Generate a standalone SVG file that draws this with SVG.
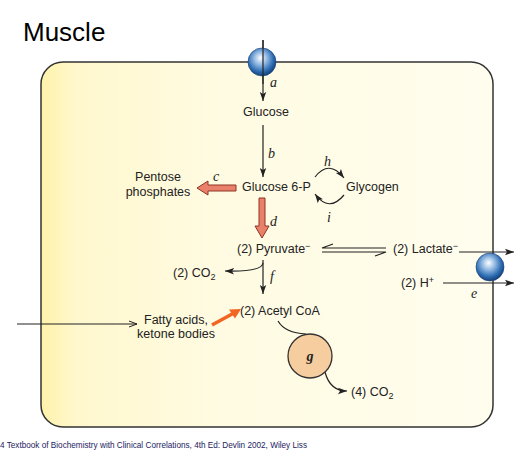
<svg xmlns="http://www.w3.org/2000/svg" width="521" height="460" viewBox="0 0 521 460">
<style>
  .lbl { font-family: "Liberation Sans", Arial, sans-serif; font-size: 12.5px; fill: #222; }
  .it { font-family: "Liberation Serif", "Times New Roman", serif; font-style: italic; font-size: 14px; fill: #222; }
  .ln { fill: none; stroke: #222; stroke-width: 1.2; }
  .pink { fill: #E9806A; stroke: #8E3424; stroke-width: 1; }
</style>
<defs>
  <linearGradient id="cellFill" x1="0" y1="0" x2="1" y2="0">
    <stop offset="0" stop-color="#FFF2AA"/>
    <stop offset="0.08" stop-color="#FFF8CE"/>
    <stop offset="0.4" stop-color="#FFFBE2"/>
    <stop offset="1" stop-color="#FFFDEE"/>
  </linearGradient>
  <radialGradient id="sphere" cx="0.45" cy="0.4" r="0.6" fx="0.45" fy="0.35">
    <stop offset="0" stop-color="#FFFFFF"/>
    <stop offset="0.35" stop-color="#9CC0E6"/>
    <stop offset="0.75" stop-color="#2E6EB4"/>
    <stop offset="1" stop-color="#14407A"/>
  </radialGradient>
  <marker id="arr" markerUnits="userSpaceOnUse" markerWidth="10" markerHeight="8" refX="9" refY="4" orient="auto">
    <path d="M0,0.8 L9,4 L0,7.2 L2,4 z" fill="#222"/>
  </marker>
  <marker id="open" markerUnits="userSpaceOnUse" markerWidth="10" markerHeight="8" refX="9" refY="4" orient="auto">
    <path d="M1,1 L9,4 L1,7" fill="none" stroke="#222" stroke-width="1"/>
  </marker>
</defs>

<text id="title" x="23" y="41" style="font-family:'Liberation Sans',Arial,sans-serif;font-size:26px;fill:#000">Muscle</text>

<g id="cell">
  <rect x="41" y="62" width="452" height="365" rx="22" ry="22" fill="url(#cellFill)" stroke="#333" stroke-width="1.5"/>
</g>

<g id="connectors">
  <!-- a -->
  <line class="ln" x1="263" y1="40" x2="263" y2="101" marker-end="url(#arr)"/>
  <!-- b -->
  <line class="ln" x1="263" y1="125" x2="263" y2="177" marker-end="url(#arr)"/>
  <!-- c -->
  <polygon class="pink" points="197,188 208,181 208,185 236,185 236,191 208,191 208,195"/>
  <!-- d -->
  <polygon class="pink" points="262,238 255,226 259,226 259,198 265,198 265,226 269,226"/>
  <!-- h / i -->
  <path class="ln" d="M315,177 Q329,159 344,178" marker-end="url(#arr)"/>
  <path class="ln" d="M344,195 Q329,213 315,194" marker-end="url(#arr)"/>
  <!-- pyruvate <-> lactate -->
  <path class="ln" d="M386,248 L322,248 L333,244"/>
  <path class="ln" d="M322,252 L386,252 L375,256"/>
  <!-- e: lactate out, H+ out -->
  <line class="ln" x1="459" y1="252" x2="514" y2="252" marker-end="url(#arr)"/>
  <line class="ln" x1="443" y1="283" x2="514" y2="283" marker-end="url(#arr)"/>
  <!-- f -->
  <line class="ln" x1="263" y1="260" x2="263" y2="294" marker-end="url(#arr)"/>
  <path class="ln" d="M263,263 Q262,272 225,271" marker-end="url(#arr)"/>
  <!-- fatty acids -->
  <line class="ln" x1="17" y1="324" x2="137" y2="324" stroke-width="1" marker-end="url(#open)"/>
  <line x1="212" y1="325" x2="233" y2="313.5" stroke="#F26522" stroke-width="3.5"/>
  <polygon points="241,309 229,309.5 235,318.5" fill="#F26522"/>
  <!-- g -->
  <path class="ln" d="M278,321 Q285,333 306,334"/>
  <path class="ln" d="M325,372 Q330,391 347,391" marker-end="url(#arr)"/>
</g>

<g id="transporter-top">
  <circle cx="262" cy="62" r="14" fill="url(#sphere)" stroke="#1A3E70" stroke-width="0.6"/>
  <line class="ln" x1="263" y1="40" x2="263" y2="84"/>
</g>
<g id="transporter-right">
  <circle cx="490" cy="267" r="14" fill="url(#sphere)" stroke="#1A3E70" stroke-width="0.6"/>
</g>

<g id="glucose"><text class="lbl" x="266" y="116" text-anchor="middle">Glucose</text></g>
<g id="glucose6p"><text class="lbl" x="242" y="191">Glucose 6-P</text></g>
<g id="pentose">
  <text class="lbl" x="158" y="181" text-anchor="middle">Pentose</text>
  <text class="lbl" x="158" y="196" text-anchor="middle">phosphates</text>
</g>
<g id="glycogen"><text class="lbl" x="346" y="191">Glycogen</text></g>
<g id="pyruvate"><text class="lbl" x="237" y="253">(2) Pyruvate<tspan font-size="9" dy="-4">−</tspan></text></g>
<g id="lactate"><text class="lbl" x="393" y="253">(2) Lactate<tspan font-size="9" dy="-4">−</tspan></text></g>
<g id="hplus"><text class="lbl" x="401" y="287">(2) H<tspan font-size="9" dy="-4">+</tspan></text></g>
<g id="co2a"><text class="lbl" x="173" y="277">(2) CO<tspan font-size="9" dy="3">2</tspan></text></g>
<g id="acetylcoa"><text class="lbl" x="240" y="315">(2) Acetyl CoA</text></g>
<g id="fattyacids">
  <text class="lbl" x="176" y="324" text-anchor="middle">Fatty acids,</text>
  <text class="lbl" x="176" y="338" text-anchor="middle">ketone bodies</text>
</g>
<g id="tca">
  <circle cx="310" cy="356" r="22" fill="#F6CD9E" stroke="#333" stroke-width="1.3"/>
  <text x="310" y="361" text-anchor="middle" style="font-family:'Liberation Serif',serif;font-style:italic;font-weight:bold;font-size:14px;fill:#222">g</text>
</g>
<g id="co2b"><text class="lbl" x="351" y="396">(4) CO<tspan font-size="9" dy="3">2</tspan></text></g>

<g id="enzyme-labels">
  <text class="it" x="270" y="87">a</text>
  <text class="it" x="268" y="158">b</text>
  <text class="it" x="213" y="181">c</text>
  <text class="it" x="270" y="226">d</text>
  <text class="it" x="471" y="298">e</text>
  <text class="it" x="270" y="281">f</text>
  <text class="it" x="324" y="166">h</text>
  <text class="it" x="327" y="222">i</text>
</g>

<text id="citation" x="0" y="448" style="font-family:'Liberation Sans',Arial,sans-serif;font-size:8.2px;fill:#1C2260">4 Textbook of Biochemistry with Clinical Correlations, 4th Ed: Devlin 2002, Wiley Liss</text>
</svg>
